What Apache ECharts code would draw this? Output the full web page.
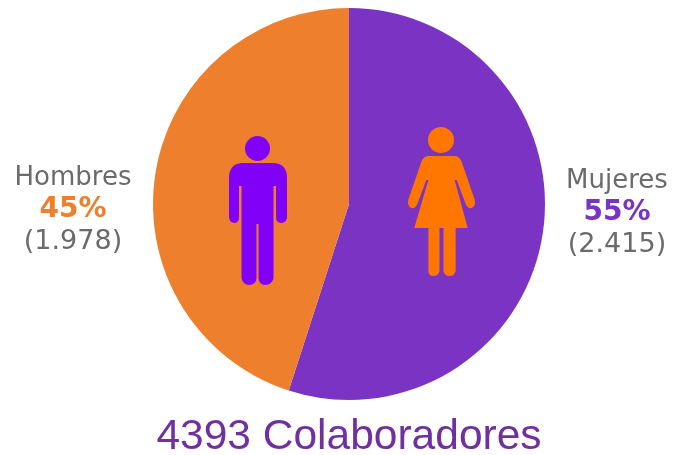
<!DOCTYPE html>
<html>
<head>
<meta charset="utf-8">
<style>html,body{margin:0;padding:0;background:#fff}#chart{width:673px;height:455px}</style>
<script src="https://cdn.jsdelivr.net/npm/echarts@6/dist/echarts.min.js"></script>
</head>
<body>
<div id="chart"></div>
<script>
// Staff split by gender
const categories = ['Mujeres', 'Hombres'];
const headcount = [2415, 1978];
const shareLabels = ['55%', '45%'];
const countLabels = ['(2.415)', '(1.978)'];
const sliceColors = ['#7B33C4', '#EE7F2D'];
const titleText = '4393 Colaboradores';

const chart = echarts.init(document.getElementById('chart'), null, { renderer: 'canvas' });

// Label anchor per slice, in page pixels
const labelSpots = [{ x: 617, y: 213 }, { x: 73, y: 210 }];

// Pictogram outlines, in page pixels
const manPath = 'M242 163 L274 163 Q287 164 287 178 L287 217 Q287 222 282 223 Q276 223 276 217 L276 186 L273.5 186 L273.5 278 Q272 285 265 285 Q259 285 258.5 278 L258.5 224 L256.5 224 L256.5 278 Q256 285 249 285 Q243 285 241.5 278 L241.5 186 L239 186 L239 217 Q239 223 234 223 Q229 222 229 217 L229 178 Q229 164 242 163 Z';
const womanPath = 'M428 156 L454 156 Q459 156 461 162 L474 200 Q475 206 471 208 Q467 209 465 204 L456 180 L454 180 L467 228 L455 228 L455 271 Q454 276 449 276 Q444 276 443 271 L443 228 L439 228 L439 271 Q438 276 433 276 Q428 276 428 271 L428 228 L414 228 L428 180 L426 180 L417 204 Q415 209 411 208 Q407 206 408 200 L421 162 Q423 156 428 156 Z';

const drawFigures = () => ({
  type: 'group',
  children: [
    { type: 'circle', shape: { cx: 257.5, cy: 148.5, r: 12.5 }, style: { fill: '#8000F8' } },
    { type: 'path', shape: { pathData: manPath, layout: 'cover', x: 229, y: 163, width: 58, height: 122 }, style: { fill: '#8000F8' } },
    { type: 'circle', shape: { cx: 441, cy: 140, r: 13 }, style: { fill: '#FF7700' } },
    { type: 'path', shape: { pathData: womanPath, layout: 'cover', x: 408, y: 156, width: 67, height: 120 }, style: { fill: '#FF7700' } }
  ]
});

chart.setOption({
  animation: false,
  title: {
    text: titleText,
    left: 344,
    top: 411,
    textAlign: 'center',
    textStyle: { fontFamily: '"Liberation Sans"', fontSize: 42.5, fontWeight: 'normal', color: '#7030A0' }
  },
  series: [{
    type: 'pie',
    center: [349, 204],
    radius: [0, 196],
    startAngle: 90,
    clockwise: true,
    silent: true,
    data: categories.map((name, i) => ({
      name,
      value: headcount[i],
      itemStyle: { color: sliceColors[i] },
      label: { rich: {
        n: { fontFamily: '"DejaVu Sans"', fontSize: 26, color: '#6b6b6b', lineHeight: 32 },
        p: { fontFamily: '"DejaVu Sans"', fontSize: 28, fontWeight: 'bold', color: sliceColors[i], lineHeight: 32 },
        c: { fontFamily: '"DejaVu Sans"', fontSize: 27, color: '#6b6b6b', lineHeight: 32 }
      } }
    })),
    label: {
      show: true,
      position: 'outside',
      align: 'center',
      overflow: 'none',
      minMargin: 0,
      formatter: p => `{n|${p.name}}\n{p|${shareLabels[p.dataIndex]}}\n{c|${countLabels[p.dataIndex]}}`
    },
    labelLine: { show: false },
    labelLayout: p => ({
      x: labelSpots[p.dataIndex].x,
      y: labelSpots[p.dataIndex].y,
      align: 'center',
      verticalAlign: 'middle'
    })
  }, {
    type: 'custom',
    coordinateSystem: 'none',
    silent: true,
    z: 10,
    data: [0],
    renderItem: drawFigures
  }]
});
</script>
</body>
</html>
